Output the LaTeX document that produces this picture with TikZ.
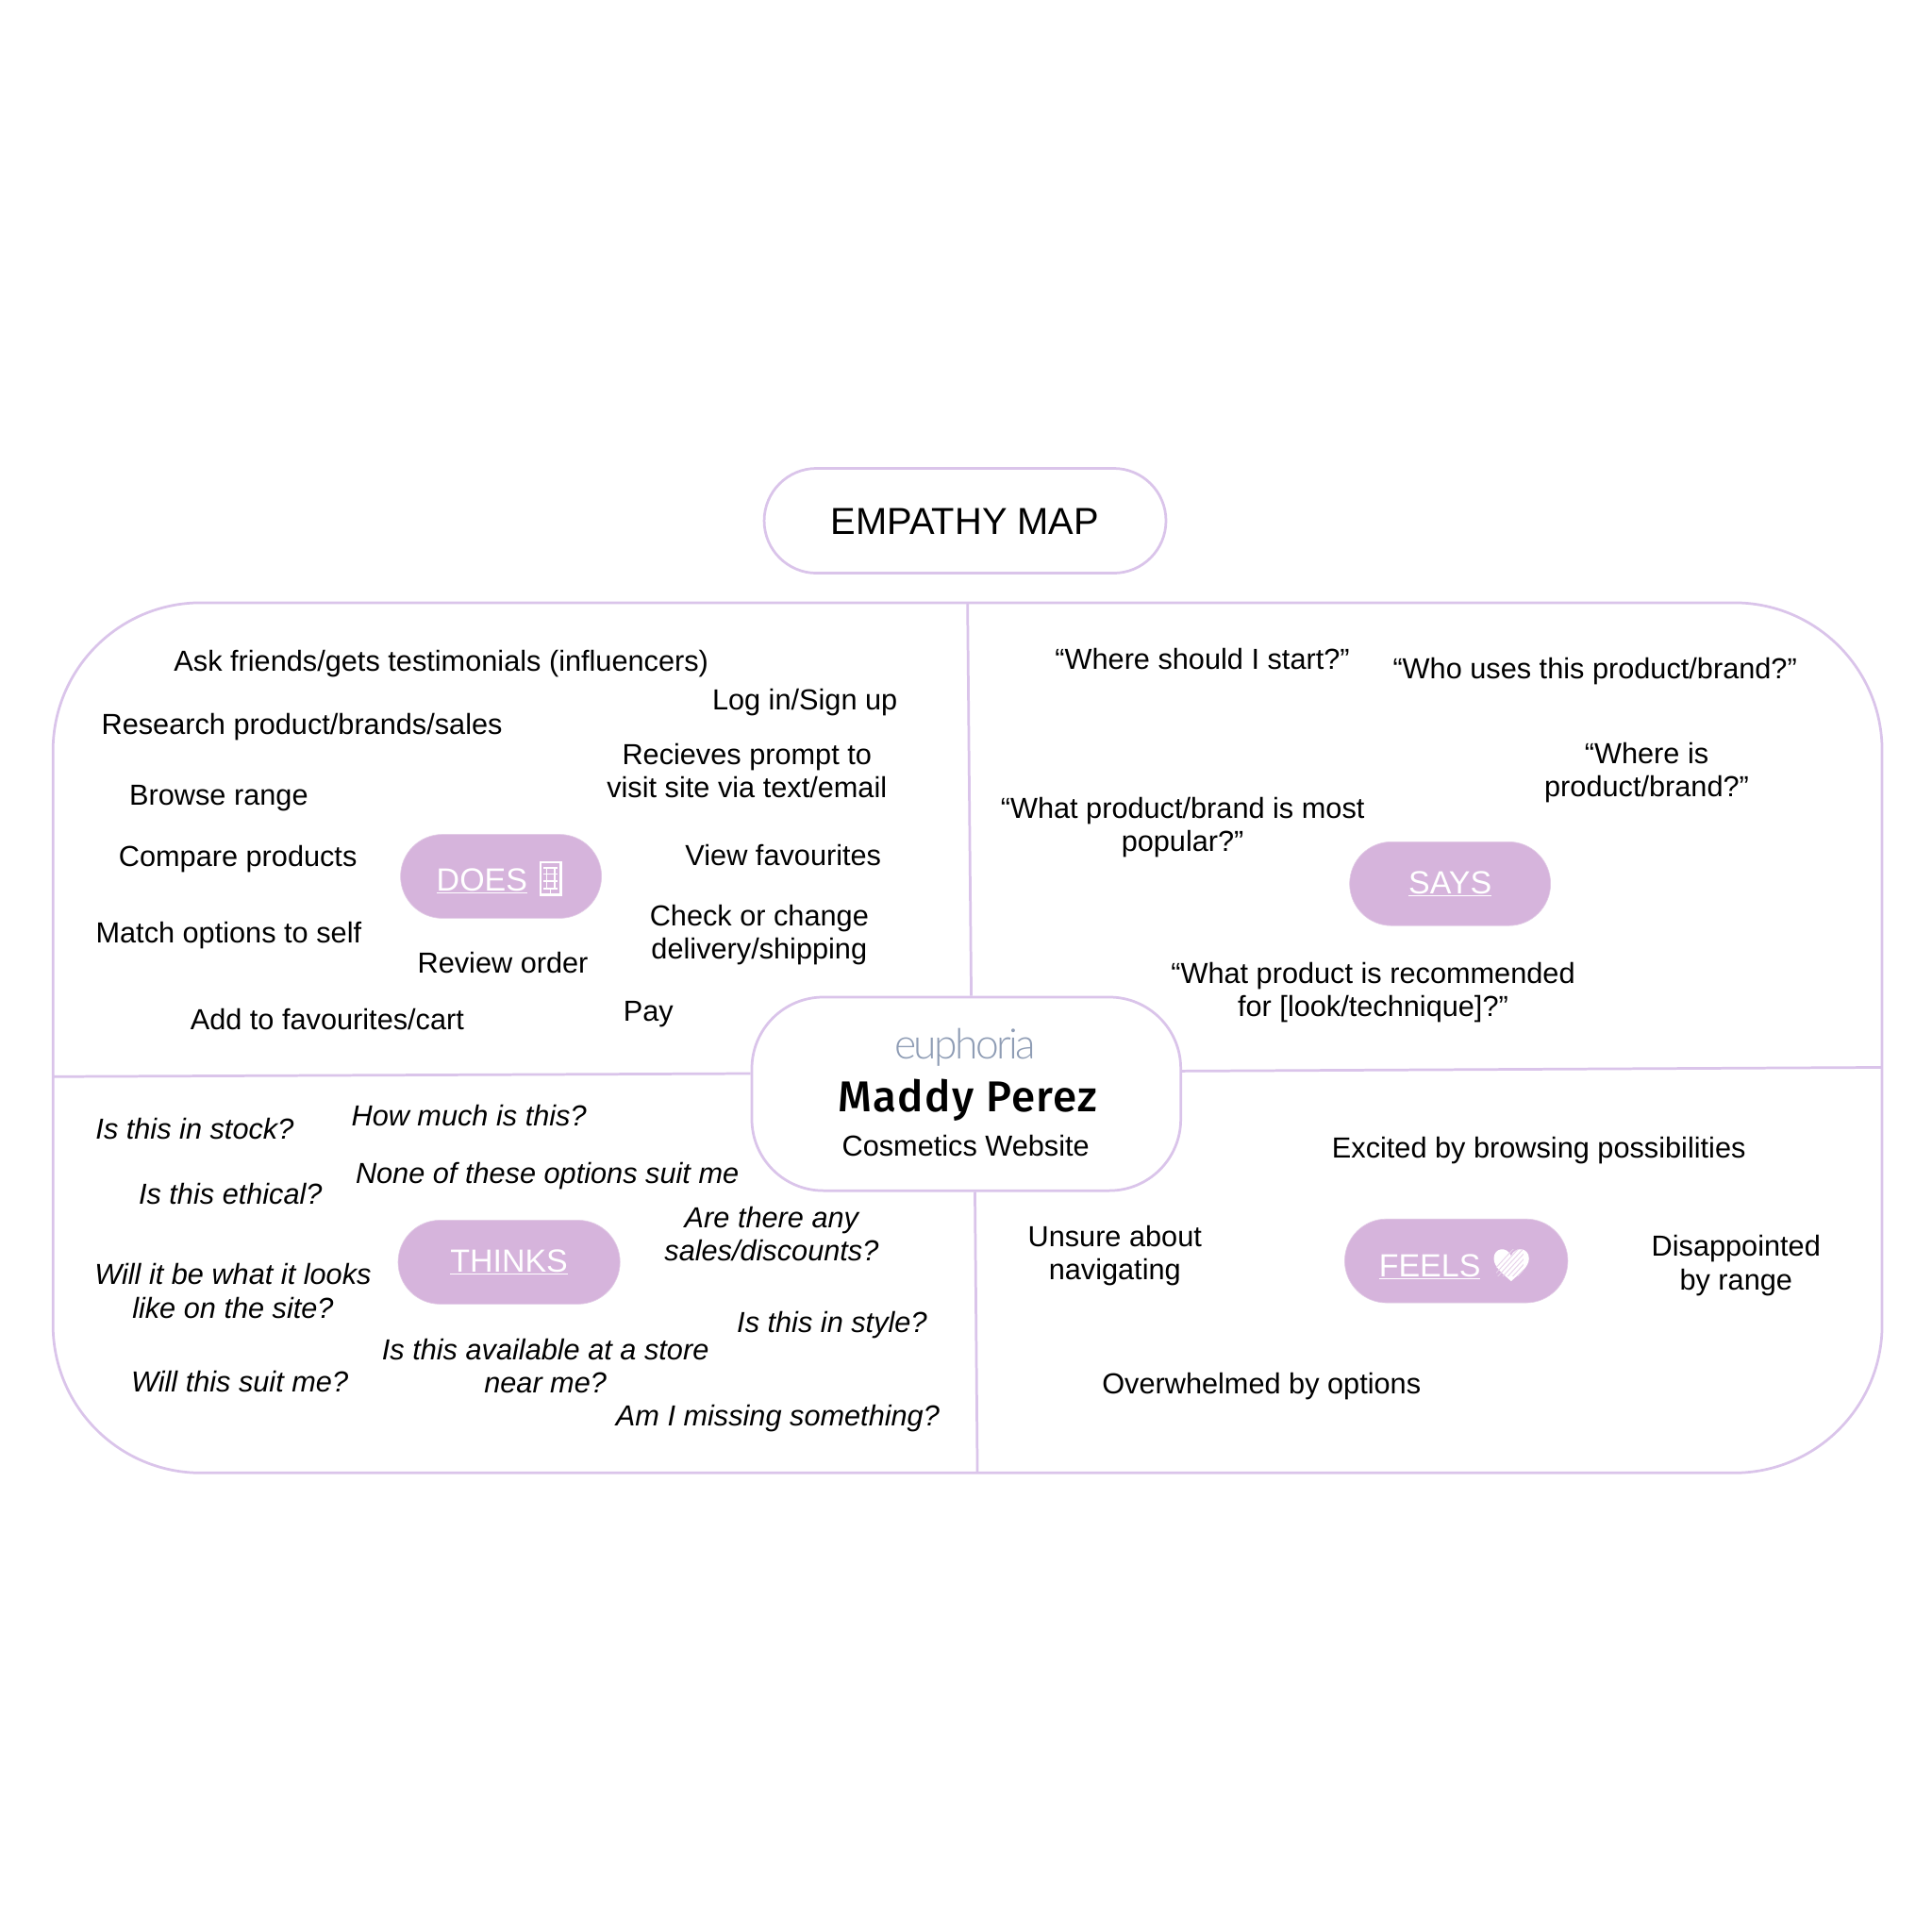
\documentclass[tikz,border=0pt]{standalone}
\usepackage{fontspec}
\setmainfont{Liberation Sans}
\newfontfamily\logofont[LetterSpace=-6]{Lato Light}
\newfontfamily\namefont[LetterSpace=3]{Fira Sans Medium}
\usetikzlibrary{shapes.misc}

\definecolor{maplilac}{HTML}{DAC4EA}
\definecolor{pillmauve}{HTML}{D6B4DC}
\definecolor{logoblue}{HTML}{8F9DB5}

\tikzset{
  mapline/.style={draw=maplilac,line width=2.1pt},
  mapbox/.style={mapline,fill=white,rectangle,inner sep=0pt},
  pill/.style={rounded rectangle,fill=pillmauve,draw=pillmauve!70!white,line width=.5pt,
    text=white,font=\fontsize{26}{32}\selectfont,minimum height=68pt,inner sep=0pt},
  note/.style={align=center,inner sep=0pt,yshift=-2.8pt,font=\fontsize{23.5}{27}\selectfont,
    execute at begin node=\strut,execute at end node=\strut},
  thought/.style={note,font=\fontsize{23.5}{27}\selectfont\itshape},
}

\begin{document}
\begin{tikzpicture}[x=1pt,y=-1pt]
  \useasboundingbox (0,0) rectangle (1567.5,1567.5);

  % Title and outer frame
  \node[mapbox,rounded rectangle,minimum width=326pt,minimum height=85pt,text depth=0pt,
    font=\fontsize{30.5}{36}\selectfont] (title) at (783,422.5) {\raisebox{-1.5pt}{EMPATHY MAP}};
  \node[mapbox,rounded corners=120pt,minimum width=1484pt,minimum height=706pt] (frame) at (785,842) {};

  % Centre box
  \node[mapbox,rounded corners=58pt,minimum width=348pt,minimum height=157pt] (centre) at (784,887.5) {};
  \node[font=\logofont\fontsize{34}{36}\selectfont,text=logoblue] (logo) at (783,850) {euphoria};
  \node[font=\namefont\fontsize{35}{38}\selectfont] (persona) at (785,892.5) {Maddy Perez};
  \node[font=\fontsize{23.5}{27}\selectfont] (site) at (783.5,929.5) {Cosmetics Website};

  % Quadrant lines
  \coordinate (topend) at (785,489);
  \coordinate (leftend) at (43,873.5);
  \coordinate (rightend) at (1527,866);
  \coordinate (bottomend) at (793,1195);
  \draw[mapline] (topend) -- ([xshift=4pt]centre.north);
  \draw[mapline] (leftend) -- ([yshift=16.5pt]centre.west);
  \draw[mapline] (rightend) -- ([yshift=18.5pt]centre.east);
  \draw[mapline] (bottomend) -- ([xshift=7pt]centre.south);

  % Heading pills
  \node[pill,minimum width=163pt] (does) at (406.5,711) {};
  \node[pill,minimum width=163pt] (says) at (1176.5,717) {\raisebox{-2pt}{\underline{SAYS}}};
  \node[pill,minimum width=180pt] (thinks) at (413,1024) {\raisebox{-2pt}{\underline{THINKS}}};
  \node[pill,minimum width=181pt] (feels) at (1181.5,1023) {};
  \node[text=white,font=\fontsize{26}{32}\selectfont] (doeslabel) at (391,715) {\underline{DOES}};
  \node[text=white,font=\fontsize{26}{32}\selectfont] (feelslabel) at (1160,1028) {\underline{FEELS}};

  % Door icon
  \draw[white,line width=1.8pt,fill=pillmauve] (438.5,699.5) rectangle (455,726);
  \draw[white,line width=1.2pt] (441,704) -- (452.5,704) (441,709) -- (452.5,709) (441,715) -- (452.5,715)
    (441,721) -- (452.5,721) (443.5,704) -- (443.5,721) (450,704) -- (450,721) (446.7,721) -- (446.7,726);

  % Heart icon
  \fill[white] (1226,1039.5) .. controls (1219,1033) and (1212,1028) .. (1212,1021)
    .. controls (1212,1012) and (1223,1011) .. (1226,1019)
    .. controls (1229,1011) and (1240.5,1012) .. (1240.5,1021)
    .. controls (1240.5,1028) and (1233,1033) .. (1226,1039.5);
  \begin{scope}
    \clip (1214,1014) rectangle (1236,1035);
    \foreach \i in {0,4,...,24}
      \draw[pillmauve!60!white,line width=.7pt] (1205+\i,1038) -- (1229+\i,1012);
  \end{scope}

  % DOES
  \node[note] (asks) at (358,536) {Ask friends/gets testimonials (influencers)};
  \node[note] (research) at (245,588) {Research product/brands/sales};
  \node[note] (browse) at (177.5,645) {Browse range};
  \node[note] (compare) at (193,695) {Compare products};
  \node[note] (match) at (185.5,757) {Match options to self};
  \node[note] (addfav) at (265.5,827) {Add to favourites/cart};
  \node[note] (review) at (408,781) {Review order};
  \node[note] (pay) at (526,820.5) {Pay};
  \node[note] (login) at (653,568) {Log in/Sign up};
  \node[note] (prompt) at (606,626.5) {Recieves prompt to\\visit site via text/email};
  \node[note] (viewfav) at (635.5,694) {View favourites};
  \node[note] (delivery) at (616,757.5) {Check or change\\delivery/shipping};

  % SAYS
  \node[note] (start) at (975.5,535) {“Where should I start?”};
  \node[note] (whouses) at (1294,542.5) {“Who uses this product/brand?”};
  \node[note] (whereis) at (1336,625.5) {“Where is\\product/brand?”};
  \node[note] (popular) at (959.5,670) {“What product/brand is most\\popular?”};
  \node[note] (recommend) at (1114,804) {“What product is recommended\\for [look/technique]?”};

  % FEELS
  \node[note] (excited) at (1248.5,931) {Excited by browsing possibilities};
  \node[note] (unsure) at (904.5,1017.5) {Unsure about\\navigating};
  \node[note] (sad) at (1408.5,1025.5) {Disappointed\\by range};
  \node[note] (overwhelmed) at (1023.5,1123) {Overwhelmed by options};

  % THINKS
  \node[thought] (stock) at (158,916) {Is this in stock?};
  \node[thought] (price) at (380.5,905) {How much is this?};
  \node[thought] (suit) at (444,952) {None of these options suit me};
  \node[thought] (ethical) at (187,969) {Is this ethical?};
  \node[thought] (sales) at (626,1002.5) {Are there any\\sales/discounts?};
  \node[thought] (looks) at (189,1048.5) {Will it be what it looks\\like on the site?};
  \node[thought] (style) at (675,1073) {Is this in style?};
  \node[thought] (nearby) at (442.5,1109.5) {Is this available at a store\\near me?};
  \node[thought] (suitme) at (194.5,1121) {Will this suit me?};
  \node[thought] (missing) at (631,1149) {Am I missing something?};
\end{tikzpicture}
\end{document}
